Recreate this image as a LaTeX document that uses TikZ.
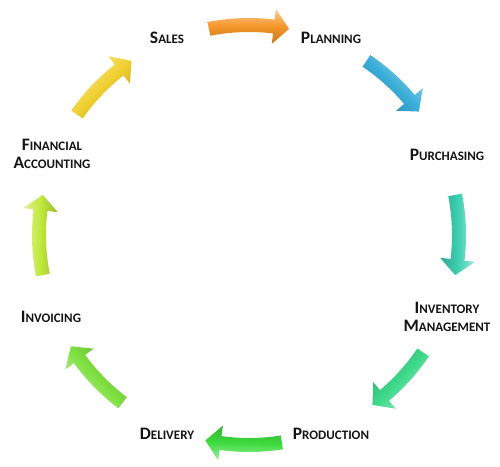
\documentclass[tikz,border=0pt]{standalone}
\usepackage{fontspec}
\setmainfont{Carlito}
\usetikzlibrary{calc}
\newcommand\sck[2]{{\fontsize{17.5}{20}\selectfont #1}{\fontsize{13}{20}\selectfont #2}}
\definecolor{cOrange}{RGB}{245,150,40}
\definecolor{cBlue}{RGB}{58,174,216}
\definecolor{cTeal}{RGB}{60,207,176}
\definecolor{cMint}{RGB}{62,217,138}
\definecolor{cGreen}{RGB}{62,219,62}
\definecolor{cLime}{RGB}{126,224,64}
\definecolor{cYG}{RGB}{192,232,58}
\definecolor{cYellow}{RGB}{240,208,48}
\newcommand\cyc[3]{%
  \pgfmathsetmacro\cychb{#2+4.2}%
  \pgfmathsetmacro\cycsa{(#1+#2)/2-90}%
  \shade[shift={(C)}, top color=#3!50!white, bottom color=#3!80!black, middle color=#3, shading angle=\cycsa]
    (#1:217pt) arc[start angle=#1, end angle=\cychb, radius=217pt]
    -- (\cychb:227.5pt) -- (#2:210pt) -- (\cychb:192.5pt) -- (\cychb:203pt)
    arc[start angle=\cychb, end angle=#1, radius=203pt] -- cycle;
}
\begin{document}
\begin{tikzpicture}[x=1pt,y=1pt,
  lbl/.style={font=\bfseries\fontsize{13}{18.5}\selectfont, text=black!92, align=center, inner sep=0pt}]
\useasboundingbox (0,0) rectangle (500,466);
\coordinate (C) at (249,231);
\cyc{101}{79}{cOrange}
\cyc{56}{36}{cBlue}
\cyc{11}{-11}{cTeal}
\cyc{-34}{-54}{cMint}
\cyc{-81}{-102}{cGreen}
\cyc{-127}{-148}{cLime}
\cyc{-169}{-191}{cYG}
\cyc{145}{124}{cYellow}
\node[lbl] (sales) at (167,428) {\sck{S}{ALES}};
\node[lbl] (planning) at (331,428) {\sck{P}{LANNING}};
\node[lbl] (purch) at (447,311) {\sck{P}{URCHASING}};
\node[lbl] (inv) at (447,149) {\sck{I}{NVENTORY}\\\sck{M}{ANAGEMENT}};
\node[lbl] (prod) at (331,32) {\sck{P}{RODUCTION}};
\node[lbl] (deliv) at (167,32) {\sck{D}{ELIVERY}};
\node[lbl] (invoic) at (51,149) {\sck{I}{NVOICING}};
\node[lbl] (fin) at (52,312) {\sck{F}{INANCIAL}\\\sck{A}{CCOUNTING}};
\end{tikzpicture}
\end{document}
